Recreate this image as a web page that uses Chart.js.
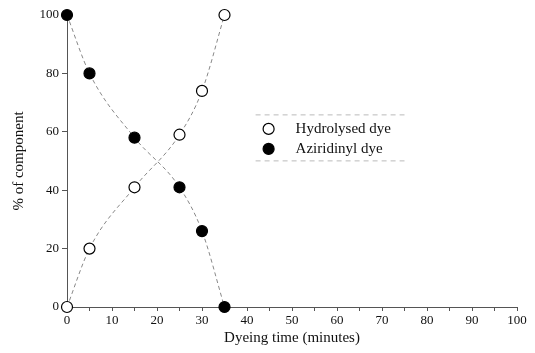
<!DOCTYPE html>
<html>
<head>
<meta charset="utf-8">
<script src="https://cdn.jsdelivr.net/npm/chart.js@4/dist/chart.umd.min.js"></script>
<style>
  html, body { margin: 0; padding: 0; background: #fff; }
  #wrap { width: 535px; height: 353px; }
</style>
</head>
<body>
<div id="wrap"><canvas id="myChart" width="535" height="353"></canvas></div>
<script>
// dyeing time in minutes
var times = [0, 5, 15, 25, 30, 35];
// % of component
var hydrolysed = [0, 20, 41, 59, 74, 100];
var aziridinyl = [100, 80, 58, 41, 26, 0];
var seriesNames = ['Hydrolysed dye', 'Aziridinyl dye'];
var xTicks = [0, 10, 20, 30, 40, 50, 60, 70, 80, 90, 100];
var yTicks = [0, 20, 40, 60, 80, 100];

var serif = "'Liberation Serif', 'DejaVu Serif', serif";

function toPoints(ys) {
    return times.map(function (t, i) { return { x: t, y: ys[i] }; });
}

// legend drawn inside the plot, like the scanned figure
var insideLegend = {
    id: 'insideLegend',
    afterDraw: function (chart) {
        var ctx = chart.ctx;
        var xs = chart.scales.x, ys = chart.scales.y;
        var left = xs.getPixelForValue(44.8), right = xs.getPixelForValue(75);
        var top = ys.getPixelForValue(61), rowH = 20;
        ctx.save();
        ctx.strokeStyle = '#bbb';
        ctx.lineWidth = 1;
        ctx.setLineDash([5, 4]);
        ctx.beginPath();
        ctx.moveTo(left - 13, top - 14);
        ctx.lineTo(right, top - 14);
        ctx.moveTo(left - 13, top + rowH + 12);
        ctx.lineTo(right, top + rowH + 12);
        ctx.stroke();
        ctx.setLineDash([]);
        chart.data.datasets.forEach(function (ds, i) {
            var cy = top + i * rowH;
            ctx.beginPath();
            ctx.arc(left, cy, 5.5, 0, Math.PI * 2);
            ctx.fillStyle = ds.pointBackgroundColor;
            ctx.fill();
            ctx.lineWidth = 1.2;
            ctx.strokeStyle = '#000';
            ctx.stroke();
            ctx.fillStyle = '#111';
            ctx.font = '15px ' + serif;
            ctx.textBaseline = 'middle';
            ctx.textAlign = 'left';
            ctx.fillText(ds.label, left + 27, cy);
        });
        ctx.restore();
    }
};

var ctx = document.getElementById('myChart').getContext('2d');
var chart = new Chart(ctx, {
    type: 'line',
    data: {
        datasets: [{
            label: seriesNames[0],
            data: toPoints(hydrolysed),
            borderColor: '#888',
            borderWidth: 1,
            borderDash: [4, 3],
            cubicInterpolationMode: 'monotone',
            pointRadius: 5.5,
            pointBackgroundColor: '#fff',
            pointBorderColor: '#000',
            pointBorderWidth: 1.2,
            fill: false
        }, {
            label: seriesNames[1],
            data: toPoints(aziridinyl),
            borderColor: '#888',
            borderWidth: 1,
            borderDash: [4, 3],
            cubicInterpolationMode: 'monotone',
            pointRadius: 5.5,
            pointBackgroundColor: '#000',
            pointBorderColor: '#000',
            pointBorderWidth: 1.2,
            fill: false
        }]
    },
    options: {
        responsive: false,
        animation: false,
        clip: false,
        layout: { padding: { left: 0, right: 18, top: 15, bottom: 0 } },
        plugins: {
            legend: { display: false },
            tooltip: { enabled: false }
        },
        scales: {
            x: {
                type: 'linear',
                min: 0,
                max: 100,
                afterFit: function (s) { s.height = 46; },
                afterBuildTicks: function (s) {
                    var t = [];
                    for (var v = 0; v <= 100; v += 5) t.push({ value: v });
                    s.ticks = t;
                },
                border: { color: '#555', width: 1 },
                grid: { drawOnChartArea: false, drawTicks: true, tickLength: 4, color: '#555' },
                ticks: {
                    color: '#111',
                    padding: 2,
                    maxRotation: 0,
                    autoSkip: false,
                    font: { family: serif, size: 13 },
                    callback: function (v) { return xTicks.indexOf(v) >= 0 ? v : ''; }
                },
                title: {
                    display: true,
                    text: 'Dyeing time (minutes)',
                    color: '#111',
                    padding: { top: 0, bottom: 6 },
                    font: { family: serif, size: 15 }
                }
            },
            y: {
                min: 0,
                max: 100,
                afterFit: function (s) { s.width = 67; },
                afterBuildTicks: function (s) {
                    s.ticks = yTicks.map(function (v) { return { value: v }; });
                },
                border: { color: '#555', width: 1, dash: [6, 2] },
                grid: { drawOnChartArea: false, drawTicks: true, tickLength: 5, color: '#555' },
                ticks: {
                    color: '#111',
                    padding: 3,
                    font: { family: serif, size: 13 }
                },
                title: {
                    display: true,
                    text: '% of component',
                    color: '#111',
                    padding: { top: 10, bottom: 0 },
                    font: { family: serif, size: 15 }
                }
            }
        }
    },
    plugins: [insideLegend]
});
</script>
</body>
</html>
